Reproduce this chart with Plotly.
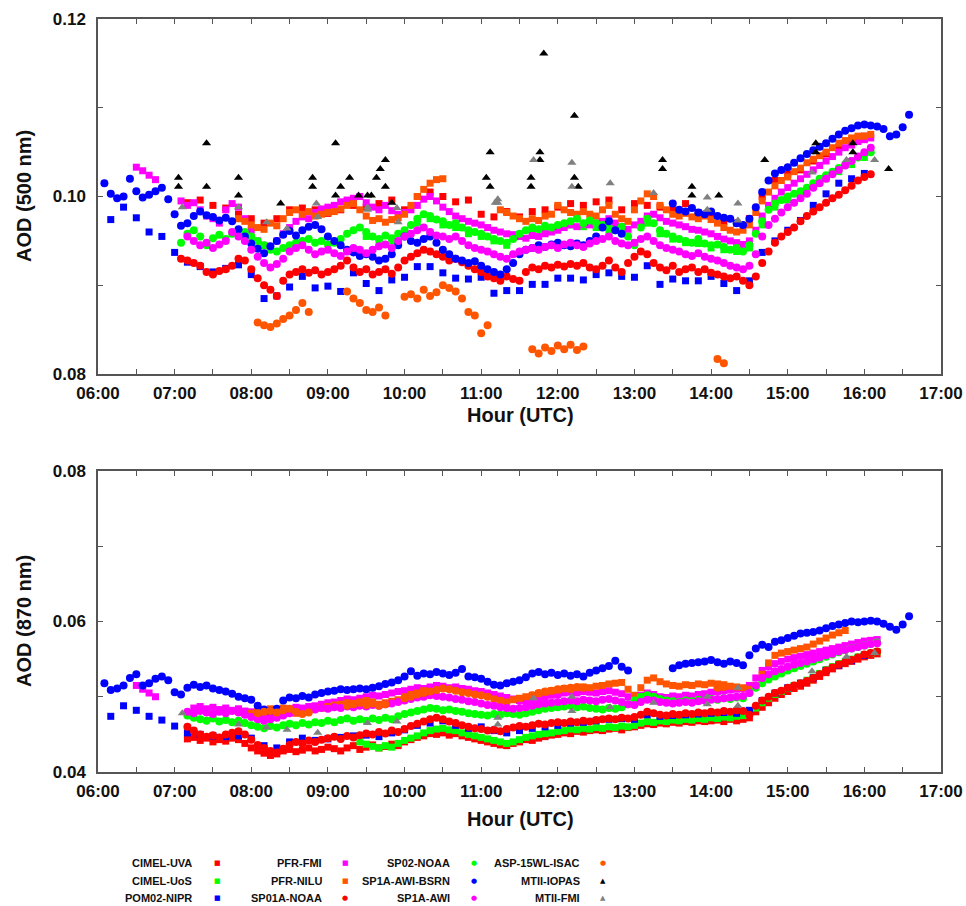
import plotly.graph_objects as go

# ---------------------------------------------------------------- labels
SERIES = ["CIMEL-UVA", "CIMEL-UoS", "POM02-NIPR", "PFR-FMI", "PFR-NILU", "SP01A-NOAA",
          "SP02-NOAA", "SP1A-AWI-BSRN", "SP1A-AWI", "ASP-15WL-ISAC", "MTII-IOPAS", "MTII-FMI"]
X_TICK_VALUES = [6, 6.5, 7, 7.5, 8, 8.5, 9, 9.5, 10, 10.5, 11, 11.5, 12, 12.5, 13, 13.5,
                 14, 14.5, 15, 15.5, 16, 16.5, 17]
X_TICK_TEXT = ["06:00", "", "07:00", "", "08:00", "", "09:00", "", "10:00", "", "11:00", "",
               "12:00", "", "13:00", "", "14:00", "", "15:00", "", "16:00", "", "17:00"]
TOP_Y_TICKS = [0.08, 0.09, 0.10, 0.11, 0.12]
TOP_Y_TICK_TEXT = ["0.08", "", "0.10", "", "0.12"]
BOT_Y_TICKS = [0.04, 0.05, 0.06, 0.07, 0.08]
BOT_Y_TICK_TEXT = ["0.04", "", "0.06", "", "0.08"]
TOP_Y_TITLE = "AOD (500 nm)"
BOT_Y_TITLE = "AOD (870 nm)"
X_TITLE = "Hour (UTC)"

# ---------------------------------------------------------------- data (AOD x 1e-4)
# ----- 500 nm panel
TOP_CIMEL_UVA_START, TOP_CIMEL_UVA_STEP = "07:10", 10
TOP_CIMEL_UVA = [993, 996, 990, 987, 980, 975, 970, 975, 985, 987, 985, 981, 985, 990, 988,
                 992, 996, 985, 1000, 1005, 1000, 994, 996, 980, 977, 983, 977, 983, 985, 988,
                 992, 990, 994, 996, 985, 992, 990, 988, 985, 992, 982, 978, 972, 970, 975,
                 1000, 1018, 1025, 1030, 1040, 1048, 1055, 1062, 1068]

TOP_CIMEL_UOS_START, TOP_CIMEL_UOS_STEP = "09:30", 10
TOP_CIMEL_UOS = [955, 950, 950, 958, 970, 975, 968, 965, 958, 955, 950, 945, 955, 960, 962,
                 965, 968, 966, 965, 960, 960, 948, 970, 958, 952, 948, 947, 942, 940, 938,
                 942, 968, 988, 996, 1003, 1012, 1020, 1028, 1036, 1044]

TOP_POM02_START, TOP_POM02_STEP = "06:10", 10
TOP_POM02 = [974, 988, 976, 960, 955, 937, 926, 921, 915, 919, 923, 912, 885, 888, 898,
             910, 897, 899, 893, 914, 902, 894, 906, 909, 921, 921, 914, 908, 907, 909,
             891, 894, 894, 901, 901, 908, 908, 906, 912, 914, 910, 909, 922, 901, 907,
             905, 905, 910, 902, 894, 905, 937, 950, 962, 973, 990, 1003, 1015, 1020, 1026]

TOP_PFR_FMI_START, TOP_PFR_FMI_STEP = "06:30", 5
TOP_PFR_FMI = ([1033, 1029, 1024, 1019] + [None] * 3 +
               [995, 990, 993, 985, 978, 975, 970, 985, 992, 988, 975, 962, 950, 945, 942,
                950, 958, 965, 972, 977, 975, 982, 986, 988, 990, 994, 996, 998, 1000, 993,
                988, 985, 990, 984, 980, 982, 985, 990, 997, 1000, 995, 988, 983, 978, 975,
                972, 970, 968, 965, 962, 960, 958, 957, 955, 953, 956, 955, 958, 960, 962,
                965, 968, 966, 969, 968, 970, 972, 975, 970, 966, 963, 968, 972, 978, 980,
                976, 972, 970, 968, 966, 963, 962, 960, 958, 955, 952, 950, 948, 946, 950,
                962, 978, 990, 998, 1005, 1010, 1015, 1020, 1025, 1030, 1035, 1040, 1045,
                1050, 1055, 1058, 1062, 1064, 1066])

TOP_PFR_NILU_START, TOP_PFR_NILU_STEP = "07:50", 5
TOP_PFR_NILU = ([975, 972, 968, 965, 963, 970, 967, 975, 982, 985, 980, 983, 978, 980, 982,
                 983, 986, 990, 992, 985, 978, 973, 975, 971, 974, 976, 980, 990, 1000, 1008,
                 1015, 1019, 1020] + [None] * 8 +
                [985, 982, 978, 975, 972, 975, 973, 978, 980, 990, 985, 982, 980, 983, 980,
                 978, 985, 990, 980, 975, 972, 985, 995, 1003, 1000, 990, 985, 980, 978, 981,
                 977, 975, 978, 974, 970, 965, 962, 960, 962, 968, 982, 995, 1005, 1012, 1018,
                 1022, 1028, 1032, 1038, 1042, 1046, 1050, 1055, 1060, 1063, 1066, 1068, 1068,
                 1070])

TOP_SP01A_START, TOP_SP01A_STEP = "07:05", 5
TOP_SP01A = [930, 928, 925, 922, 915, 912, 916, 918, 922, 930, 928, 918, 908, 900, 895,
             888, 905, 912, 915, 918, 914, 917, 912, 915, 918, 922, 928, 920, 915, 918,
             912, 915, 918, 913, 920, 928, 932, 936, 940, 938, 935, 932, 928, 930, 926,
             922, 918, 915, 910, 908, 905, 910, 907, 905, 915, 920, 918, 922, 920, 923,
             921, 924, 922, 925, 920, 918, 922, 928, 920, 915, 925, 932, 938, 935, 925,
             920, 917, 922, 915, 918, 920, 915, 918, 914, 912, 910, 908, 910, 905, 900,
             910, 925, 938, 948, 955, 960, 965, 972, 978, 983, 988, 993, 998, 1002, 1007,
             1012, 1018, 1022, 1025]

TOP_SP02_START, TOP_SP02_STEP = "07:05", 5
TOP_SP02 = [948, 958, 962, 955, 945, 953, 957, 952, 958, 962, 960, 955, 950, 945, 940,
            938, 942, 945, 948, 950, 952, 948, 950, 946, 948, 952, 958, 962, 965, 960,
            955, 952, 956, 953, 958, 962, 968, 975, 980, 978, 974, 972, 968, 970, 965,
            962, 960, 958, 955, 952, 950, 948, 952, 958, 962, 965, 963, 967, 965, 968,
            970, 972, 975, 970, 973, 970, 968, 965, 962, 966, 955, 945, 965, 975, 970,
            962, 958, 955, 952, 950, 948, 952, 947, 945, 946, 943, 940, 942, 938, 945,
            958, 972, 985, 992, 996, 1000, 1003, 1006, 1010, 1015, 1020, 1024, 1028, 1032,
            1036, 1040, 1044, 1048, 1050]

TOP_BSRN_START, TOP_BSRN_STEP = "06:05", 5
TOP_BSRN = ([1015, 1003, 998, 1000, 1020, 1006, 999, 1002, 1006, 1010, 997, 980, 967, 970,
             978, 983, 979, 977, 973, 976, 972, 963, 955, 947, 941, 936, 944, 950, 957, 961,
             956, 962, 966, 968, 963, 955, 950, 945, 940, 937, 933, 935, 932, 928, 930,
             935, 945, 955, 950, 948, 952, 955, 948, 940, 935, 930, 928, 925, 927, 922,
             918, 915, 912, 918, 925, 935, 940, 942, 945, 943, 946, 948, 945, 944, 947,
             945, 950, 955, 965, 972, 962, 958] + [None] * 7 +
            [992, 985, 983, 987, 982, 980, 983, 978, 976, 975, 970, 968, 975, 988, 1005,
             1018, 1026, 1030, 1033, 1038, 1043, 1048, 1052, 1056, 1060, 1065, 1070, 1074,
             1077, 1080, 1081, 1080, 1079, 1076, 1068, 1070, 1078, 1092])

TOP_SP1A_AWI_START, TOP_SP1A_AWI_STEP = "07:10", 5
TOP_SP1A_AWI = [955, 950, 945, 948, 942, 946, 950, 960, 955, 950, 940, 932, 925, 920, 924,
                930, 938, 942, 945, 940, 935, 938, 940, 936, 933, 938, 942, 940, 936, 940,
                944, 946, 942, 950, 955, 958, 962, 965, 960, 956, 955, 952, 955, 950, 945,
                942, 940, 938, 935, 932, 930, 935, 938, 940, 942, 940, 943, 945, 942, 946,
                948, 945, 943, 947, 950, 952, 955, 950, 947, 945, 948, 952, 955, 950, 945,
                942, 940, 938, 935, 933, 936, 932, 930, 928, 925, 922, 920, 918, 922, 935,
                955, 968, 975, 982, 988, 993, 998, 1003, 1010, 1015, 1020, 1025, 1030, 1035,
                1040, 1045, 1050, 1055]

TOP_ASP_START, TOP_ASP_STEP = "08:05", 5
TOP_ASP = ([858, 855, 853, 857, 862, 866, 872, 880, 870] + [None] * 5 +
           [893, 885, 880, 872, 870, 875, 866] + [None] * 2 +
           [887, 890, 885, 895, 888, 892, 900, 897, 893, 885, 870, 866, 846, 855] + [None] * 6 +
           [828, 823, 830, 826, 832, 828, 833, 827, 831] + [None] * 20 + [817, 812])

TOP_IOPAS_TIMES = ["07:03", "07:03", "07:25", "07:25", "07:50", "07:50", "08:23", "08:48",
                   "08:48", "09:06", "09:06", "09:10", "09:17", "09:24", "09:31", "09:34",
                   "09:38", "09:41", "09:45", "09:45", "09:50", "11:04", "11:07", "11:07",
                   "11:39", "11:39", "11:46", "11:46", "11:49", "12:13", "12:13", "12:16",
                   "13:22", "13:22", "13:45", "13:45", "14:06", "14:42", "15:22", "15:22",
                   "15:51", "15:51", "16:19"]
TOP_IOPAS = [1021, 1011, 1060, 1011, 1021, 1001, 992, 1021, 1011, 1060, 1001, 1011, 1021,
             1001, 1001, 1001, 1021, 1031, 1041, 1011, 993, 1021, 1050, 1011, 1021, 1011,
             1050, 1041, 1161, 1091, 1021, 1011, 1041, 1031, 1011, 1001, 1001, 1041, 1060,
             1050, 1060, 1050, 1031]

TOP_MTII_FMI_TIMES = ["07:06", "07:50", "08:12", "08:28", "08:51", "08:52", "09:31", "09:31",
                      "09:54", "09:55", "11:11", "11:13", "11:13", "11:41", "12:11", "12:11",
                      "12:41", "13:15", "13:57", "13:57", "14:21", "14:21", "15:19", "15:46",
                      "16:08"]
TOP_MTII_FMI = [988, 988, 971, 964, 992, 977, 988, 985, 987, 971, 993, 997, 993, 1041, 1038,
                1011, 1015, 1004, 999, 985, 992, 973, 1027, 1041, 1041]

# ----- 870 nm panel
BOT_CIMEL_UVA_START, BOT_CIMEL_UVA_STEP = "07:10", 5
BOT_CIMEL_UVA = [444, 446, 442, 445, 440, 443, 441, 445, 443, 438, 432, 428, 425, 422, 424,
                 428, 430, 427, 429, 432, 428, 430, 433, 431, 428, 432, 435, 430, 433, 436,
                 432, 434, 437, 435, 440, 443, 446, 448, 451, 450, 452, 449, 451, 448, 446,
                 444, 442, 440, 438, 436, 435, 438, 440, 443, 442, 445, 447, 449, 450, 452,
                 451, 454, 453, 455, 456, 455, 457, 458, 456, 459, 460, 462, 464, 463, 465,
                 464, 466, 465, 467, 466, 468, 467, 468, 469, 467, 470, 468, 470, 472, 480,
                 486, 492, 498, 503, 507, 511, 514, 518, 522, 527, 532, 537, 541, 544, 547,
                 550, 553, 555, 557]

BOT_CIMEL_UOS_START, BOT_CIMEL_UOS_STEP = "09:25", 5
BOT_CIMEL_UOS = [440, 437, 434, 432, 435, 433, 438, 442, 445, 448, 452, 455, 457, 458, 456,
                 455, 452, 450, 448, 446, 444, 442, 440, 438, 440, 443, 446, 448, 450, 451,
                 452, 454, 455, 457, 456, 458, 457, 459, 458, 460, 459, 461, 460, 462, 465,
                 467, 466, 468, 467, 469, 468, 470, 469, 471, 470, 472, 471, 473, 472, 474,
                 475, 478, 485, 492, 498, 503, 507, 511, 515, 518, 522, 526, 531, 536, 540,
                 544, 547, 550, 553, 556, 558, 560]

BOT_POM02_START, BOT_POM02_STEP = "06:10", 10
BOT_POM02 = [474, 488, 482, 474, 469, 461, 452, 450, 448, 447, 448, 445, 435, 432, 440,
             445, 442, 444, 446, 448, 449, 447, 452, 456, 462, 465, 468, 462, 458, 460,
             455, 452, 455, 458, 460, 462, 465, 466, 468, 470, 471, 470, 476, 474, 475,
             476, 477, 478, 479, 478, 482, 495, 505, 512, 518, 525, 535, 542, 548, 555]

BOT_PFR_FMI_START, BOT_PFR_FMI_STEP = "06:30", 5
BOT_PFR_FMI = ([515, 510, 505, 500] + [None] * 5 +
               [485, 487, 484, 486, 483, 485, 482, 484, 481, 480, 478, 476, 477, 479, 482,
                484, 486, 485, 487, 488, 490, 492, 493, 495, 497, 496, 498, 500, 502, 501,
                503, 505, 507, 508, 510, 512, 511, 513, 515, 514, 512, 513, 511, 510, 508,
                507, 505, 503, 501, 499, 497, 495, 494, 496, 498, 500, 502, 503, 505, 506,
                505, 507, 506, 505, 507, 508, 506, 504, 500, 497, 502, 505, 503, 500, 499,
                501, 500, 502, 501, 503, 504, 506, 507, 508, 509, 510, 511, 515, 525, 535,
                540, 544, 547, 550, 552, 554, 556, 558, 560, 562, 564, 566, 568, 570, 572,
                574, 575, 576])

BOT_PFR_NILU_START, BOT_PFR_NILU_STEP = "08:00", 5
BOT_PFR_NILU = ([478, 480, 482, 484, 483, 485, 482, 478] + [None] * 3 +
                [485, 487, 489, 490, 492, 491, 493, 495, 493, 490, 492, 494, 496, 500, 503,
                 505, 508, 506] + [None] * 9 +
                [497, 495, 493, 496, 498, 500, 502, 504, 506, 508, 509, 511, 510, 512, 513,
                 512, 514, 515, 517, 518, 519, 510, 502, 512, 522, 525, 520, 517, 515, 514,
                 516, 515, 517, 516, 518, 517, 516, 514, 513, 512, 510, 515, 530, 545, 555,
                 558, 560, 562, 564, 566, 570, 574, 578, 582, 585, 588])

BOT_SP01A_START, BOT_SP01A_STEP = "07:10", 5
BOT_SP01A = [460, 455, 450, 447, 449, 446, 450, 452, 454, 450, 443, 436, 432, 428, 426,
             431, 436, 440, 438, 442, 440, 443, 445, 447, 444, 448, 446, 449, 451, 450,
             453, 451, 455, 453, 457, 461, 464, 467, 470, 472, 470, 467, 465, 462, 460,
             458, 457, 455, 456, 454, 457, 459, 461, 460, 462, 464, 463, 465, 466, 465,
             467, 466, 468, 467, 469, 470, 471, 470, 472, 471, 473, 476, 480, 478, 476,
             475, 477, 476, 478, 477, 479, 478, 480, 479, 481, 480, 482, 481, 476, 488,
             495, 500, 505, 508, 512, 515, 518, 521, 525, 530, 535, 539, 543, 546, 549,
             552, 556, 558, 560]

BOT_SP02_START, BOT_SP02_STEP = "07:10", 5
BOT_SP02 = [475, 472, 470, 468, 471, 467, 469, 466, 468, 465, 462, 460, 458, 461, 459,
            462, 464, 462, 465, 463, 466, 465, 468, 466, 469, 471, 468, 470, 468, 471,
            469, 472, 470, 474, 477, 479, 481, 483, 485, 484, 482, 483, 481, 480, 478,
            477, 476, 475, 477, 476, 478, 477, 476, 478, 480, 482, 484, 485, 486, 487,
            488, 486, 487, 485, 484, 483, 485, 484, 486, 490, 495, 500, 502, 500, 497,
            495, 494, 493, 495, 494, 496, 495, 497, 496, 498, 497, 499, 498, 505, 512,
            518, 523, 527, 531, 535, 538, 541, 544, 547, 550, 553, 556, 559, 562, 564,
            566, 568, 570, 572]

BOT_BSRN_START, BOT_BSRN_STEP = "06:05", 5
BOT_BSRN = ([518, 509, 511, 515, 525, 530, 515, 518, 524, 527, 522, 506, 503, 512, 516,
             513, 515, 511, 509, 507, 504, 500, 498, 496, 488, 483, 481, 484, 495, 499,
             498, 501, 499, 503, 505, 507, 508, 510, 509, 510, 511, 510, 512, 514, 517,
             519, 522, 527, 534, 528, 531, 530, 533, 531, 529, 532, 537, 527, 526, 524,
             520, 516, 515, 518, 520, 522, 526, 531, 533, 530, 532, 529, 531, 528, 530,
             527, 532, 535, 538, 541, 548, 540, 535] + [None] * 6 +
            [538, 542, 544, 545, 546, 547, 549, 546, 544, 547, 545, 542, 555, 564, 569,
             566, 573, 575, 578, 581, 584, 585, 586, 588, 591, 594, 596, 598, 600, 599,
             600, 601, 600, 597, 593, 589, 596, 607])

BOT_SP1A_AWI_START, BOT_SP1A_AWI_STEP = "07:10", 5
BOT_SP1A_AWI = [480, 478, 481, 479, 477, 480, 478, 481, 479, 476, 473, 470, 468, 470, 472,
                475, 478, 480, 482, 481, 483, 485, 484, 486, 485, 487, 486, 488, 487, 489,
                488, 490, 491, 493, 495, 497, 499, 500, 502, 501, 500, 499, 497, 496, 494,
                493, 491, 489, 488, 486, 485, 484, 485, 486, 488, 490, 491, 492, 493, 494,
                495, 494, 496, 495, 494, 496, 497, 495, 493, 490, 489, 493, 496, 495, 493,
                492, 491, 492, 493, 492, 494, 495, 496, 497, 498, 499, 500, 501, 505, 515,
                525, 530, 534, 537, 540, 543, 545, 547, 550, 552, 555, 557, 560, 562, 564,
                566, 568, 570, 571]

BOT_ASP_START, BOT_ASP_STEP = "08:05", 5
BOT_ASP = ([478, 480, 481, 479, 482, 484, 480, 477, 479] + [None] * 5 +
           [488, 490, 492, 489, 491, 488, 490] + [None] * 2 +
           [498, 500, 503, 505, 507, 509, 511, 510, 508, 506, 505, 503, 502, 500] + [None] * 6 +
           [502, 505, 507, 508, 510, 511, 512, 513, 512] + [None] * 20 + [512, 513])

BOT_IOPAS_TIMES = []
BOT_IOPAS = []

BOT_MTII_FMI_TIMES = ["07:06", "07:50", "08:12", "08:28", "08:52", "09:31", "09:54", "11:13",
                      "11:13", "11:41", "12:11", "12:11", "12:41", "13:15", "13:57", "13:57",
                      "14:21", "14:21", "15:19", "15:46", "16:08"]
BOT_MTII_FMI = [478, 463, 459, 456, 452, 465, 467, 472, 463, 498, 500, 481, 486, 492, 500,
                490, 512, 488, 534, 553, 558]

# ---------------------------------------------------------------- styles
STYLE = {
    "CIMEL-UVA": ("#ff0000", "square", 7, "\u25a0"),
    "CIMEL-UoS": ("#00ff00", "square", 7, "\u25a0"),
    "POM02-NIPR": ("#0000ff", "square", 7, "\u25a0"),
    "PFR-FMI": ("#ff00ff", "square", 7, "\u25a0"),
    "PFR-NILU": ("#ff5500", "square", 7, "\u25a0"),
    "SP01A-NOAA": ("#ff0000", "circle", 8, "\u25cf"),
    "SP02-NOAA": ("#00ff00", "circle", 8, "\u25cf"),
    "SP1A-AWI-BSRN": ("#0000ff", "circle", 8, "\u25cf"),
    "SP1A-AWI": ("#ff00ff", "circle", 8, "\u25cf"),
    "ASP-15WL-ISAC": ("#ff5500", "circle", 8, "\u25cf"),
    "MTII-IOPAS": ("#000000", "triangle-up", 8, "\u25b2"),
    "MTII-FMI": ("#808080", "triangle-up", 8, "\u25b2"),
}


def hhmm(s):
    h, m = s.split(":")
    return int(h) + int(m) / 60.0


def grid(start, step, n):
    t0 = hhmm(start)
    return [t0 + i * step / 60.0 for i in range(n)]


def aod(vals):
    return [None if v is None else v / 10000.0 for v in vals]


TOP = {
    "CIMEL-UVA": (grid(TOP_CIMEL_UVA_START, TOP_CIMEL_UVA_STEP, len(TOP_CIMEL_UVA)), TOP_CIMEL_UVA),
    "CIMEL-UoS": (grid(TOP_CIMEL_UOS_START, TOP_CIMEL_UOS_STEP, len(TOP_CIMEL_UOS)), TOP_CIMEL_UOS),
    "POM02-NIPR": (grid(TOP_POM02_START, TOP_POM02_STEP, len(TOP_POM02)), TOP_POM02),
    "PFR-FMI": (grid(TOP_PFR_FMI_START, TOP_PFR_FMI_STEP, len(TOP_PFR_FMI)), TOP_PFR_FMI),
    "PFR-NILU": (grid(TOP_PFR_NILU_START, TOP_PFR_NILU_STEP, len(TOP_PFR_NILU)), TOP_PFR_NILU),
    "SP01A-NOAA": (grid(TOP_SP01A_START, TOP_SP01A_STEP, len(TOP_SP01A)), TOP_SP01A),
    "SP02-NOAA": (grid(TOP_SP02_START, TOP_SP02_STEP, len(TOP_SP02)), TOP_SP02),
    "SP1A-AWI-BSRN": (grid(TOP_BSRN_START, TOP_BSRN_STEP, len(TOP_BSRN)), TOP_BSRN),
    "SP1A-AWI": (grid(TOP_SP1A_AWI_START, TOP_SP1A_AWI_STEP, len(TOP_SP1A_AWI)), TOP_SP1A_AWI),
    "ASP-15WL-ISAC": (grid(TOP_ASP_START, TOP_ASP_STEP, len(TOP_ASP)), TOP_ASP),
    "MTII-IOPAS": ([hhmm(t) for t in TOP_IOPAS_TIMES], TOP_IOPAS),
    "MTII-FMI": ([hhmm(t) for t in TOP_MTII_FMI_TIMES], TOP_MTII_FMI),
}
BOT = {
    "CIMEL-UVA": (grid(BOT_CIMEL_UVA_START, BOT_CIMEL_UVA_STEP, len(BOT_CIMEL_UVA)), BOT_CIMEL_UVA),
    "CIMEL-UoS": (grid(BOT_CIMEL_UOS_START, BOT_CIMEL_UOS_STEP, len(BOT_CIMEL_UOS)), BOT_CIMEL_UOS),
    "POM02-NIPR": (grid(BOT_POM02_START, BOT_POM02_STEP, len(BOT_POM02)), BOT_POM02),
    "PFR-FMI": (grid(BOT_PFR_FMI_START, BOT_PFR_FMI_STEP, len(BOT_PFR_FMI)), BOT_PFR_FMI),
    "PFR-NILU": (grid(BOT_PFR_NILU_START, BOT_PFR_NILU_STEP, len(BOT_PFR_NILU)), BOT_PFR_NILU),
    "SP01A-NOAA": (grid(BOT_SP01A_START, BOT_SP01A_STEP, len(BOT_SP01A)), BOT_SP01A),
    "SP02-NOAA": (grid(BOT_SP02_START, BOT_SP02_STEP, len(BOT_SP02)), BOT_SP02),
    "SP1A-AWI-BSRN": (grid(BOT_BSRN_START, BOT_BSRN_STEP, len(BOT_BSRN)), BOT_BSRN),
    "SP1A-AWI": (grid(BOT_SP1A_AWI_START, BOT_SP1A_AWI_STEP, len(BOT_SP1A_AWI)), BOT_SP1A_AWI),
    "ASP-15WL-ISAC": (grid(BOT_ASP_START, BOT_ASP_STEP, len(BOT_ASP)), BOT_ASP),
    "MTII-IOPAS": ([hhmm(t) for t in BOT_IOPAS_TIMES], BOT_IOPAS),
    "MTII-FMI": ([hhmm(t) for t in BOT_MTII_FMI_TIMES], BOT_MTII_FMI),
}

# ---------------------------------------------------------------- figure
W, H = 966, 906
ML, MR, MT, MB = 98, 25, 19, 134
PW, PH = W - ML - MR, H - MT - MB


def px(x):
    return (x - ML) / PW


def py(y):
    return (H - MB - y) / PH


FONT = "Liberation Sans, Arial, sans-serif"
AX = "#555555"

fig = go.Figure()
for panel, (xa, ya) in ((TOP, ("x", "y")), (BOT, ("x2", "y2"))):
    for name in SERIES:
        color, symbol, size, _ = STYLE[name]
        xs, vals = panel[name]
        fig.add_trace(go.Scatter(
            x=xs, y=aod(vals), mode="markers", name=name, showlegend=False,
            xaxis=xa, yaxis=ya,
            marker=dict(color=color, symbol=symbol, size=size, line=dict(width=0)),
        ))

axis_common = dict(showline=True, linecolor=AX, linewidth=1.5, mirror="ticks",
                   ticks="inside", ticklen=5, tickwidth=1.2, tickcolor=AX,
                   showgrid=False, zeroline=False,
                   tickfont=dict(family=FONT, size=17, color="#111111", weight="bold"))

top_bottom_px = 374
bot_top_px = 471
fig.update_layout(
    width=W, height=H, plot_bgcolor="white", paper_bgcolor="white",
    margin=dict(l=ML, r=MR, t=MT, b=MB, autoexpand=False),
    showlegend=False,
    xaxis=dict(domain=[0, 1], range=[6, 17], anchor="y", tickmode="array",
               tickvals=X_TICK_VALUES, ticktext=X_TICK_TEXT, ticklabelstandoff=3, **axis_common),
    yaxis=dict(domain=[py(top_bottom_px), 1], range=[0.08, 0.12], anchor="x", tickmode="array",
               tickvals=TOP_Y_TICKS, ticktext=TOP_Y_TICK_TEXT, ticklabelstandoff=7, **axis_common),
    xaxis2=dict(domain=[0, 1], range=[6, 17], anchor="y2", tickmode="array",
                tickvals=X_TICK_VALUES, ticktext=X_TICK_TEXT, ticklabelstandoff=3, **axis_common),
    yaxis2=dict(domain=[0, py(bot_top_px)], range=[0.04, 0.08], anchor="x2", tickmode="array",
                tickvals=BOT_Y_TICKS, ticktext=BOT_Y_TICK_TEXT, ticklabelstandoff=7, **axis_common),
)

title_font = dict(family=FONT, size=20, color="#111111", weight="bold")
ann = []
ann.append(dict(text=X_TITLE, x=px(520), y=py(415), xref="paper", yref="paper",
                showarrow=False, font=title_font, xanchor="center", yanchor="middle"))
ann.append(dict(text=X_TITLE, x=px(520), y=py(819), xref="paper", yref="paper",
                showarrow=False, font=title_font, xanchor="center", yanchor="middle"))
ann.append(dict(text=TOP_Y_TITLE, x=px(24), y=py(196), xref="paper", yref="paper",
                showarrow=False, font=title_font, textangle=-90, xanchor="center", yanchor="middle"))
ann.append(dict(text=BOT_Y_TITLE, x=px(24), y=py(621), xref="paper", yref="paper",
                showarrow=False, font=title_font, textangle=-90, xanchor="center", yanchor="middle"))

# legend: 4 columns x 3 rows, text right-aligned with marker to its right
LEG_TEXT_X = [194, 324, 452, 582]
LEG_MARK_X = [217, 345, 474, 603]
LEG_ROW_Y = [863, 881, 898]
leg_font = dict(family=FONT, size=11, color="#111111", weight="bold")
for i, name in enumerate(SERIES):
    col, row = divmod(i, 3)
    color, _, _, glyph = STYLE[name]
    ann.append(dict(text=name, x=px(LEG_TEXT_X[col]), y=py(LEG_ROW_Y[row]), xref="paper",
                    yref="paper", showarrow=False, font=leg_font, xanchor="right",
                    yanchor="middle"))
    ann.append(dict(text=glyph, x=px(LEG_MARK_X[col]), y=py(LEG_ROW_Y[row]), xref="paper",
                    yref="paper", showarrow=False,
                    font=dict(family="DejaVu Sans", size=7, color=color),
                    xanchor="center", yanchor="middle"))
fig.update_layout(annotations=ann)

fig.write_html("out.html")
